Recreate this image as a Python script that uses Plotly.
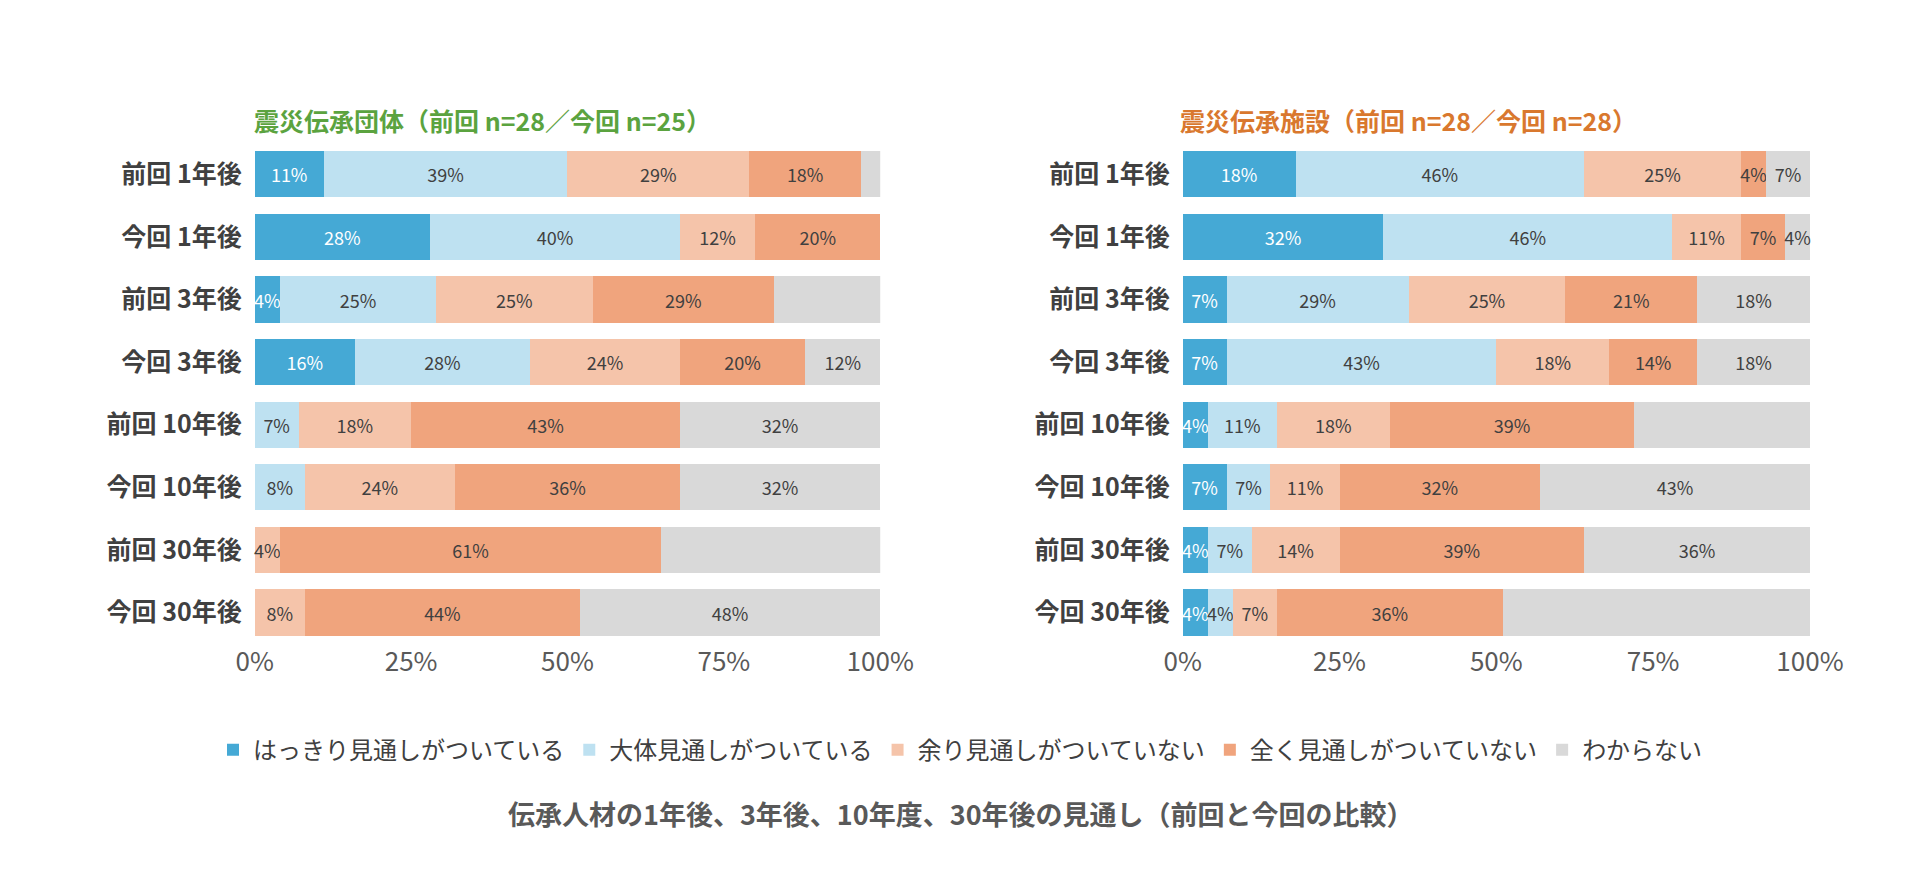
import plotly.graph_objects as go

categories = ["前回 1年後", "今回 1年後", "前回 3年後", "今回 3年後",
              "前回 10年後", "今回 10年後", "前回 30年後", "今回 30年後"]
series_names = ["はっきり見通しがついている", "大体見通しがついている", "余り見通しがついていない",
                "全く見通しがついていない", "わからない"]
colors = ["#45A9D5", "#BEE1F1", "#F5C4AA", "#F0A47D", "#D9D9D9"]
tick_vals = [0, 25, 50, 75, 100]
tick_text = ["0%", "25%", "50%", "75%", "100%"]

# 震災伝承団体 rows: one list per category, values per series
dantai = [
    [11, 39, 29, 18, 4],
    [28, 40, 12, 20, 0],
    [4, 25, 25, 29, 18],
    [16, 28, 24, 20, 12],
    [0, 7, 18, 43, 32],
    [0, 8, 24, 36, 32],
    [0, 0, 4, 61, 36],
    [0, 0, 8, 44, 48],
]
# 震災伝承施設
shisetsu = [
    [18, 46, 25, 4, 7],
    [32, 46, 11, 7, 4],
    [7, 29, 25, 21, 18],
    [7, 43, 18, 14, 18],
    [4, 11, 18, 39, 29],
    [7, 7, 11, 32, 43],
    [4, 7, 14, 39, 36],
    [4, 4, 7, 36, 50],
]

fig = go.Figure()
for data, xa, ya, show in [(dantai, "x", "y", True), (shisetsu, "x2", "y2", False)]:
    for i, name in enumerate(series_names):
        vals = [row[i] for row in data]
        fig.add_trace(go.Bar(
            y=categories, x=vals, name=name, orientation="h",
            marker=dict(color=colors[i], line=dict(width=0)),
            text=[f"{v}%" if v > 0 else "" for v in vals],
            textposition="inside", insidetextanchor="middle", textangle=0,
            textfont=dict(size=18, color="white" if i == 0 else "#404040"),
            constraintext="none", cliponaxis=False,
            xaxis=xa, yaxis=ya, showlegend=show,
        ))

axis_x = dict(range=[0, 100], tickvals=tick_vals, ticktext=tick_text,
              showgrid=False, zeroline=False, tickfont=dict(size=26, color="#595959"))
axis_y = dict(autorange="reversed", tickfont=dict(size=25, color="#404040"), ticks="",
              ticklabelstandoff=12,
              tickvals=categories, ticktext=[f"<b>{c}</b>" for c in categories])
fig.update_layout(
    width=1920, height=871,
    barmode="stack", bargap=0.26,
    uniformtext=dict(minsize=18, mode="show"),
    plot_bgcolor="white", paper_bgcolor="white",
    font=dict(family="Noto Sans CJK JP"),
    margin=dict(l=0, r=0, t=0, b=0),
    xaxis=dict(domain=[0.122, 0.457], anchor="y", **axis_x),
    yaxis=dict(domain=[0.27, 0.845], anchor="x", **axis_y),
    xaxis2=dict(domain=[0.619, 0.955], anchor="y2", **axis_x),
    yaxis2=dict(domain=[0.27, 0.845], anchor="x2", **axis_y),
    legend=dict(orientation="h", x=0.5, xanchor="center", y=0.148, yanchor="middle",
                font=dict(size=24, color="#404040"), traceorder="normal"),
    annotations=[
        dict(text="<b>震災伝承団体（前回 n=28／今回 n=25）</b>", x=0.244, y=0.894, xanchor="center",
             xref="paper", yref="paper", showarrow=False, font=dict(size=25, color="#5BA33F")),
        dict(text="<b>震災伝承施設（前回 n=28／今回 n=28）</b>", x=0.74, y=0.894, xanchor="center",
             xref="paper", yref="paper", showarrow=False, font=dict(size=25, color="#D9782E")),
        dict(text="<b>伝承人材の1年後、3年後、10年度、30年後の見通し（前回と今回の比較）</b>", x=0.5, y=0.05,
             xanchor="center",
             xref="paper", yref="paper", showarrow=False, font=dict(size=27, color="#595959")),
    ],
)

fig.write_html("out.html")
